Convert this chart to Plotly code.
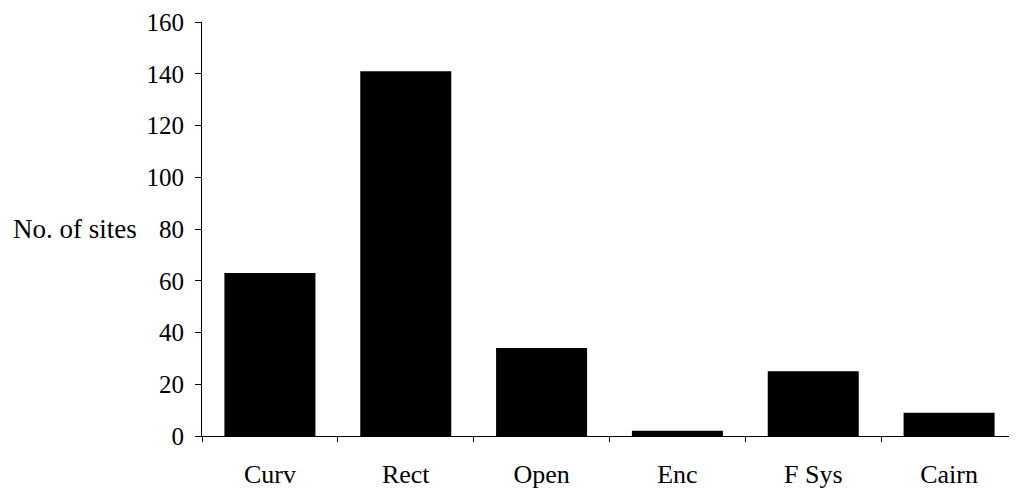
import plotly.graph_objects as go

categories = ["Curv", "Rect", "Open", "Enc", "F Sys", "Cairn"]
sites = [63, 141, 34, 2, 25, 9]
y_ticks = [0, 20, 40, 60, 80, 100, 120, 140, 160]

FONT = "Liberation Serif"

fig = go.Figure(go.Bar(x=categories, y=sites, marker=dict(color="black", line=dict(width=0))))

# page body has an 8px margin, so the figure starts at (8, 8)
fig.update_layout(
    width=1009, height=485,
    margin=dict(l=194, r=0, t=14, b=57),
    paper_bgcolor="white", plot_bgcolor="white",
    bargap=0.33,
    showlegend=False,
    font=dict(family=FONT, size=25, color="black"),
)
fig.update_xaxes(
    showline=True, linecolor="black", linewidth=1,
    ticks="outside", tickson="boundaries", ticklen=5, tickcolor="black",
    showgrid=False, ticklabelstandoff=15,
    tickfont=dict(family=FONT, size=26, color="black"),
)
fig.update_yaxes(
    range=[0, 160], tickvals=y_ticks,
    showline=True, linecolor="black", linewidth=1,
    ticks="outside", ticklen=6, tickcolor="black",
    showgrid=False, zeroline=False, ticklabelstandoff=6,
    tickfont=dict(family=FONT, size=25, color="black"),
)
fig.add_annotation(
    text="No. of sites", xref="paper", yref="y", x=0, y=80,
    xshift=-63, xanchor="right", yanchor="middle", showarrow=False,
    font=dict(family=FONT, size=27, color="black"),
)

fig.write_html("out.html")
